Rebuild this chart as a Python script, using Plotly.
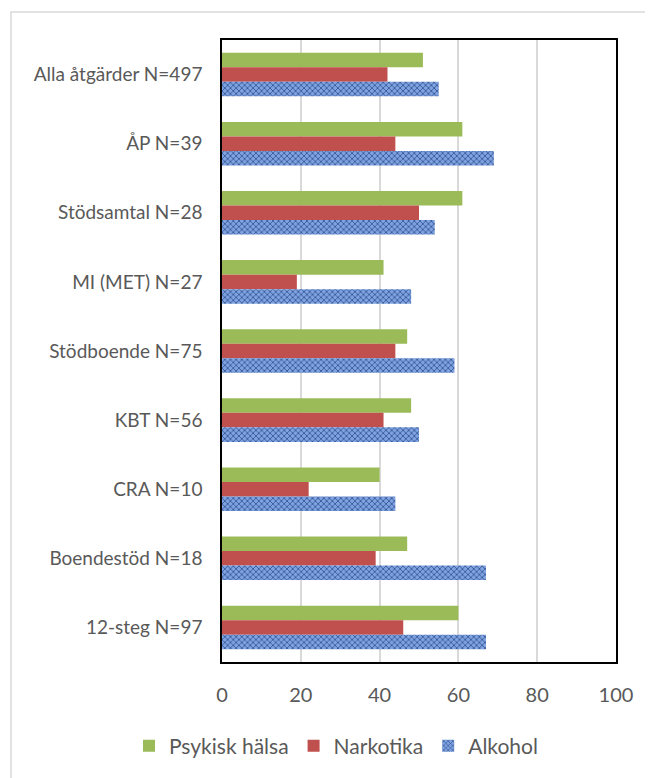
import plotly.graph_objects as go

categories = ["Alla åtgärder N=497", "ÅP N=39", "Stödsamtal N=28", "MI (MET) N=27",
              "Stödboende N=75", "KBT N=56", "CRA N=10", "Boendestöd N=18", "12-steg N=97"]
psykisk = [51, 61, 61, 41, 47, 48, 40, 47, 60]
narkotika = [42, 44, 50, 19, 44, 41, 22, 39, 46]
alkohol = [55, 69, 54, 48, 59, 50, 44, 67, 67]
x_ticks = [0, 20, 40, 60, 80, 100]

FONT = "Lato"
GRAY = "#595959"

# page body has an 8px default margin, so figure coords = page coords - 8
W, H = 645, 770
L, T, R, B = 214, 32, 37, 116
PW = W - L - R
PH = H - T - B

fig = go.Figure()
fig.add_trace(go.Bar(y=categories, x=psykisk, name="Psykisk hälsa", orientation="h",
                     marker=dict(color="#9BBB59", line=dict(width=0))))
fig.add_trace(go.Bar(y=categories, x=narkotika, name="Narkotika", orientation="h",
                     marker=dict(color="#C0504D", line=dict(width=0))))
fig.add_trace(go.Bar(y=categories, x=alkohol, name="Alkohol", orientation="h",
                     marker=dict(color="#5E86C8", line=dict(width=0),
                                 pattern=dict(shape="x", bgcolor="#7FA3E0", fgcolor="#1F3F7F",
                                              size=4, solidity=0.3, fillmode="replace"))))

fig.update_layout(
    width=W, height=H,
    margin=dict(l=L, r=R, t=T, b=B, autoexpand=False),
    paper_bgcolor="white", plot_bgcolor="white",
    barmode="group", bargap=0.37, bargroupgap=0,
    font=dict(family=FONT, color=GRAY, size=19),
    showlegend=True,
    legend=dict(orientation="h", x=(121 - L) / PW, xanchor="left",
                y=-(746 - 662) / PH, yanchor="middle",
                font=dict(family=FONT, size=21, color=GRAY), traceorder="normal",
                itemwidth=30),
    xaxis=dict(range=[0, 100], tickvals=x_ticks, showgrid=True, gridcolor="#D9D9D9",
               gridwidth=1.5, zeroline=False, showline=True, linecolor="black", linewidth=1.5,
               mirror=True, ticks="", tickfont=dict(size=20, color=GRAY), ticklabelstandoff=14),
    yaxis=dict(autorange="reversed", showgrid=False, showline=True, linecolor="black",
               linewidth=1.5, mirror=True, ticks="", tickfont=dict(size=19, color=GRAY),
               ticklabelstandoff=14),
    shapes=[dict(type="rect", xref="paper", yref="paper",
                 x0=(11 - 222) / PW, x1=(680 - 222) / PW,
                 y0=-(800 - 662) / PH, y1=1 + (40 - 12) / PH,
                 line=dict(color="#D9D9D9", width=1.5), fillcolor="rgba(0,0,0,0)", layer="below")],
)

fig.write_html("out.html")
